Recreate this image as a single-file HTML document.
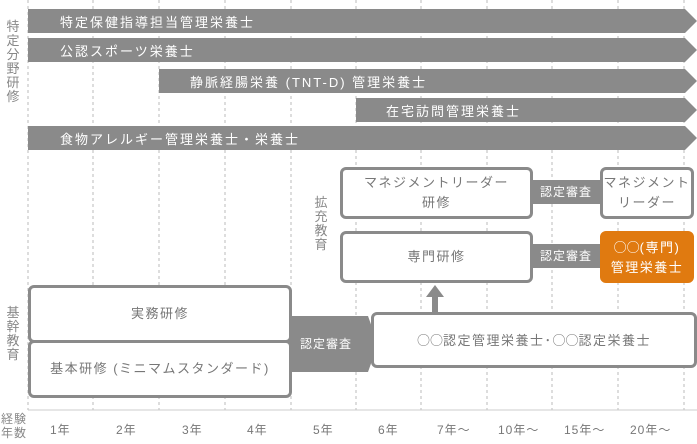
<!DOCTYPE html>
<html><head><meta charset="utf-8"><style>
body{margin:0;background:#fff}
#c{position:relative;width:697px;height:444px;overflow:hidden;font-family:"Liberation Sans","Noto Sans CJK JP",sans-serif}
.t{position:absolute;font-size:13px;color:#666;letter-spacing:2px;white-space:nowrap}
.v{position:absolute;font-size:13px;color:#888;width:14px;line-height:14px;text-align:center}
.w{color:#fff}
.bx{position:absolute;border:3px solid #8a8a8a;border-radius:6px;background:#fff;box-sizing:border-box;display:flex;align-items:center;justify-content:center;text-align:center;color:#777;font-size:13px;letter-spacing:1.5px;line-height:20px;font-family:"Liberation Sans","Noto Sans CJK JP",sans-serif}
.o{font-family:"Noto Sans CJK JP",sans-serif;letter-spacing:0}
</style></head><body><div id="c">
<svg width="697" height="444" style="position:absolute;left:0;top:0">
<g stroke="#bbb" stroke-dasharray="3,3" stroke-width="1">
<line x1="28" y1="0" x2="28" y2="410"/><line x1="93" y1="0" x2="93" y2="410"/><line x1="159" y1="0" x2="159" y2="410"/><line x1="225" y1="0" x2="225" y2="410"/><line x1="291" y1="0" x2="291" y2="410"/><line x1="356" y1="0" x2="356" y2="410"/><line x1="421" y1="0" x2="421" y2="410"/><line x1="487" y1="0" x2="487" y2="410"/><line x1="552" y1="0" x2="552" y2="410"/><line x1="618" y1="0" x2="618" y2="410"/><line x1="684" y1="0" x2="684" y2="410"/>
</g>
<line x1="28" y1="410" x2="697" y2="410" stroke="#ccc" stroke-width="1"/>
<g fill="#8a8a8a">
<polygon points="28,9 685,9 697,21 685,33 28,33"/>
<polygon points="28,38 685,38 697,50 685,62 28,62"/>
<polygon points="159,69 685,69 697,81 685,93 159,93"/>
<polygon points="356,98 685,98 697,110 685,122 356,122"/>
<polygon points="28,126 685,126 697,138 685,150 28,150"/>
<polygon points="532,180 601,180 610,192 601,204 532,204"/>
<polygon points="532,244 601,244 610,256 601,268 532,268"/>
<polygon points="290,316 368,316 378,344 368,372 290,372"/>
</g>
</svg>
<div class="t w" style="left:60px;top:12px">特定保健指導担当管理栄養士</div>
<div class="t w" style="left:60px;top:41px">公認スポーツ栄養士</div>
<div class="t w" style="left:190px;top:72px">静脈経腸栄養 (TNT-D) 管理栄養士</div>
<div class="t w" style="left:386px;top:101px">在宅訪問管理栄養士</div>
<div class="t w" style="left:60px;top:129px">食物アレルギー管理栄養士・栄養士</div>
<div class="t w" style="left:540px;top:183px;font-size:12px;letter-spacing:1px">認定審査</div>
<div class="t w" style="left:540px;top:247px;font-size:12px;letter-spacing:1px">認定審査</div>
<div class="t w" style="left:300px;top:335px;font-size:12px;letter-spacing:1px">認定審査</div>
<div class="v" style="left:6px;top:20px">特定分野研修</div>
<div class="v" style="left:314px;top:196px">拡充教育</div>
<div class="v" style="left:6px;top:306px">基幹教育</div>
<div class="v" style="left:0px;top:412px;width:28px;font-size:12px;letter-spacing:1px">経験<br>年数</div>
<div class="bx" style="left:340px;top:167px;width:193px;height:52px">マネジメントリーダー<br>研修</div>
<div class="bx" style="left:340px;top:231px;width:193px;height:52px">専門研修</div>
<div class="bx" style="left:600px;top:167px;width:94px;height:52px">マネジメント<br>リーダー</div>
<div class="bx" style="left:600px;top:231px;width:94px;height:52px;background:#e07a10;border-color:#e07a10;color:#fff"><span><span class="o">○○</span>(専門)<br>管理栄養士</span></div>
<div class="bx" style="left:28px;top:285px;width:264px;height:58px">実務研修</div>
<div class="bx" style="left:28px;top:340px;width:264px;height:58px">基本研修 (ミニマムスタンダード)</div>
<div class="bx" style="left:371px;top:312px;width:326px;height:56px"><span><span class="o">○○</span>認定管理栄養士･<span class="o">○○</span>認定栄養士</span></div>
<svg width="697" height="444" style="position:absolute;left:0;top:0">
<g fill="#8a8a8a"><rect x="432" y="292" width="6" height="21"/><polygon points="426,297 435,285 444,297"/></g>
</svg>
<div class="t" style="left:50px;top:421px;font-size:12px;color:#777;letter-spacing:1px">1年</div>
<div class="t" style="left:116px;top:421px;font-size:12px;color:#777;letter-spacing:1px">2年</div>
<div class="t" style="left:182px;top:421px;font-size:12px;color:#777;letter-spacing:1px">3年</div>
<div class="t" style="left:247px;top:421px;font-size:12px;color:#777;letter-spacing:1px">4年</div>
<div class="t" style="left:313px;top:421px;font-size:12px;color:#777;letter-spacing:1px">5年</div>
<div class="t" style="left:378px;top:421px;font-size:12px;color:#777;letter-spacing:1px">6年</div>
<div class="t" style="left:437px;top:421px;font-size:12px;color:#777;letter-spacing:1px">7年～</div>
<div class="t" style="left:498px;top:421px;font-size:12px;color:#777;letter-spacing:1px">10年～</div>
<div class="t" style="left:564px;top:421px;font-size:12px;color:#777;letter-spacing:1px">15年～</div>
<div class="t" style="left:630px;top:421px;font-size:12px;color:#777;letter-spacing:1px">20年～</div>
</div></body></html>
